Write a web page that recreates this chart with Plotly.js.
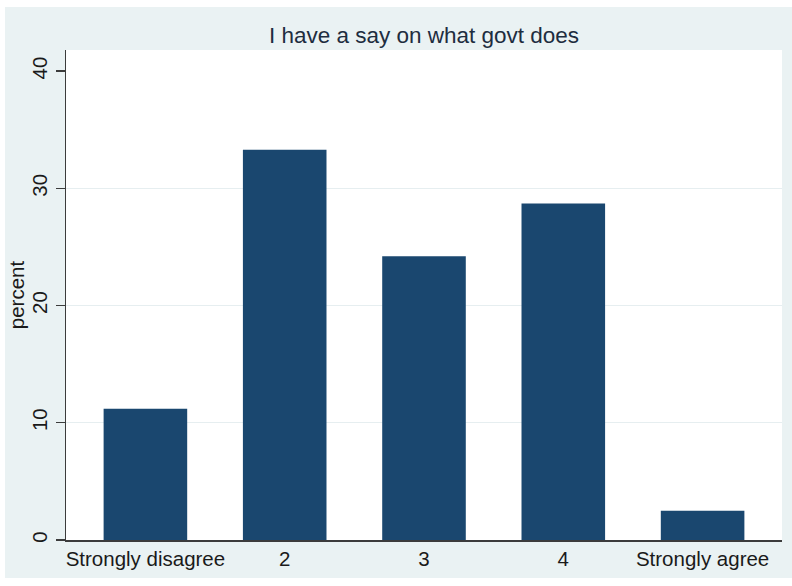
<!DOCTYPE html>
<html>
<head>
<meta charset="utf-8">
<script src="https://cdn.plot.ly/plotly-3.0.1.min.js"></script>
<style>
html,body{margin:0;padding:0;background:#ffffff;width:792px;height:586px;overflow:hidden;}
#chart{position:absolute;left:5px;top:7px;width:787px;height:571px;}
</style>
</head>
<body>
<div id="chart"></div>
<script>
const categories = ["Strongly disagree", "2", "3", "4", "Strongly agree"];
const percentValues = [11.2, 33.3, 24.2, 28.7, 2.5];
const yTickValues = [0, 10, 20, 30, 40];
const yGridValues = [10, 20, 30];
const chartTitle = "I have a say on what govt does";
const yTitle = "percent";

const font = "Liberation Sans, Arial, sans-serif";
const trace = {
  type: "bar",
  x: categories.map((c, i) => i),
  y: percentValues,
  marker: {color: "#1a476f", line: {width: 0}},
  width: 0.6,
  hoverinfo: "x+y"
};
const layout = {
  width: 787, height: 571,
  margin: {l: 61, r: 10, t: 43, b: 38},
  paper_bgcolor: "#eaf2f3",
  plot_bgcolor: "#ffffff",
  showlegend: false,
  title: {text: chartTitle, font: {family: font, size: 22.5, color: "#1e2d3f"}, x: 0.5, xref: "paper", y: 0.951, yref: "container", yanchor: "middle"},
  xaxis: {
    range: [-0.57, 4.57],
    tickvals: categories.map((c, i) => i),
    ticktext: categories,
    ticks: "",
    showgrid: false,
    zeroline: false,
    showline: true, linecolor: "#3c3c3c", linewidth: 1.5,
    tickfont: {family: font, size: 20.5, color: "#1a1a1a"},
    fixedrange: true
  },
  yaxis: {
    range: [0, 41.8],
    tickvals: yTickValues,
    ticks: "outside", ticklen: 9, tickwidth: 1.3, tickcolor: "#3c3c3c",
    tickangle: -90,
    showgrid: false,
    zeroline: false,
    showline: true, linecolor: "#3c3c3c", linewidth: 1.5,
    tickfont: {family: font, size: 20.5, color: "#1a1a1a"},
    title: {text: yTitle, font: {family: font, size: 20.5, color: "#1a1a1a"}, standoff: 3},
    fixedrange: true
  },
  yaxis2: {
    overlaying: "y",
    range: [0, 41.8],
    tickvals: yGridValues,
    showticklabels: false,
    ticks: "",
    showgrid: true, gridcolor: "#e6eef0", gridwidth: 1.2,
    zeroline: false, showline: false,
    fixedrange: true
  },
  bargap: 0.4
};
const gridTrace = {type: "scatter", x: [0], y: [0], yaxis: "y2", mode: "markers", marker: {opacity: 0}, hoverinfo: "skip", showlegend: false};
Plotly.newPlot("chart", [gridTrace, trace], layout, {displayModeBar: false, staticPlot: true});
</script>
</body>
</html>
